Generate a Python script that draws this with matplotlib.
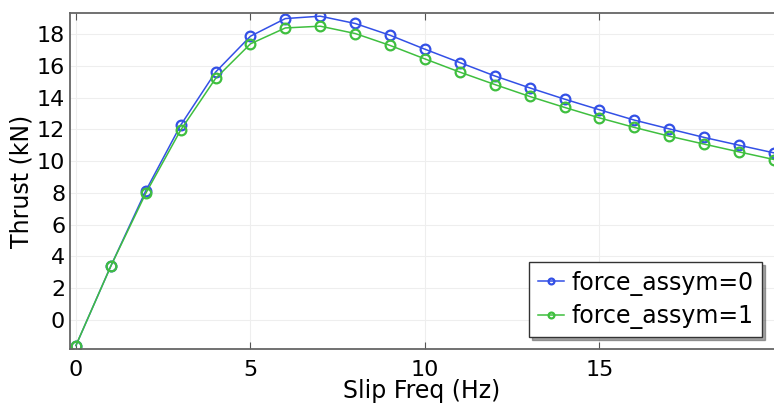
import matplotlib
matplotlib.use("Agg")
import matplotlib.pyplot as plt

slip_freq = list(range(0, 21))
thrust_0 = [-1.6, 3.40, 8.13, 12.26, 15.6, 17.86, 18.97, 19.12, 18.66, 17.92, 17.04,
            16.2, 15.36, 14.61, 13.9, 13.23, 12.58, 12.03, 11.49, 11.0, 10.52]
thrust_1 = [-1.6, 3.40, 7.97, 11.95, 15.2, 17.38, 18.38, 18.49, 18.03, 17.28, 16.43,
            15.6, 14.82, 14.07, 13.38, 12.72, 12.12, 11.57, 11.07, 10.58, 10.1]
labels = ["force_assym=0", "force_assym=1"]
xticks = [0, 5, 10, 15]
yticks = [0, 2, 4, 6, 8, 10, 12, 14, 16, 18]

fig = plt.figure(figsize=(7.74, 4.05), dpi=100)
ax = fig.add_axes([70/774, 1 - 349/405, 704/774, (349-13)/405])

ax.plot(slip_freq, thrust_0, color="#3350e6", lw=1.1, marker="o", ms=7,
        mfc="none", mew=1.6, label=labels[0])
ax.plot(slip_freq, thrust_1, color="#3fbf3f", lw=1.1, marker="o", ms=7,
        mfc="none", mew=1.6, label=labels[1])

ax.set_xlim(-0.17, 20)
ax.set_ylim(-1.82, 19.32)
ax.set_xticks(xticks)
ax.set_yticks(yticks)
ax.grid(True, color="#eeeeee", lw=0.8)
ax.tick_params(axis="both", labelsize=16, direction="in", color="#555555")
ax.tick_params(axis="x", top=True, length=5, pad=8)
ax.tick_params(axis="y", length=0)
for s in ax.spines.values():
    s.set_color("#666666")
    s.set_linewidth(1.3)
ax.spines["right"].set_visible(False)

ax.set_xlabel("Slip Freq (Hz)", fontsize=17, labelpad=-1)
ax.set_ylabel("Thrust (kN)", fontsize=17, labelpad=2)

leg = ax.legend(loc="lower right", fontsize=17, fancybox=False, shadow=True,
                edgecolor="#333333", framealpha=1, handlelength=1.1,
                handletextpad=0.35, borderaxespad=0.5, labelspacing=0.35,
                borderpad=0.35, markerscale=0.6)
leg.get_frame().set_linewidth(1.0)

fig.savefig("out.png", dpi=100)
